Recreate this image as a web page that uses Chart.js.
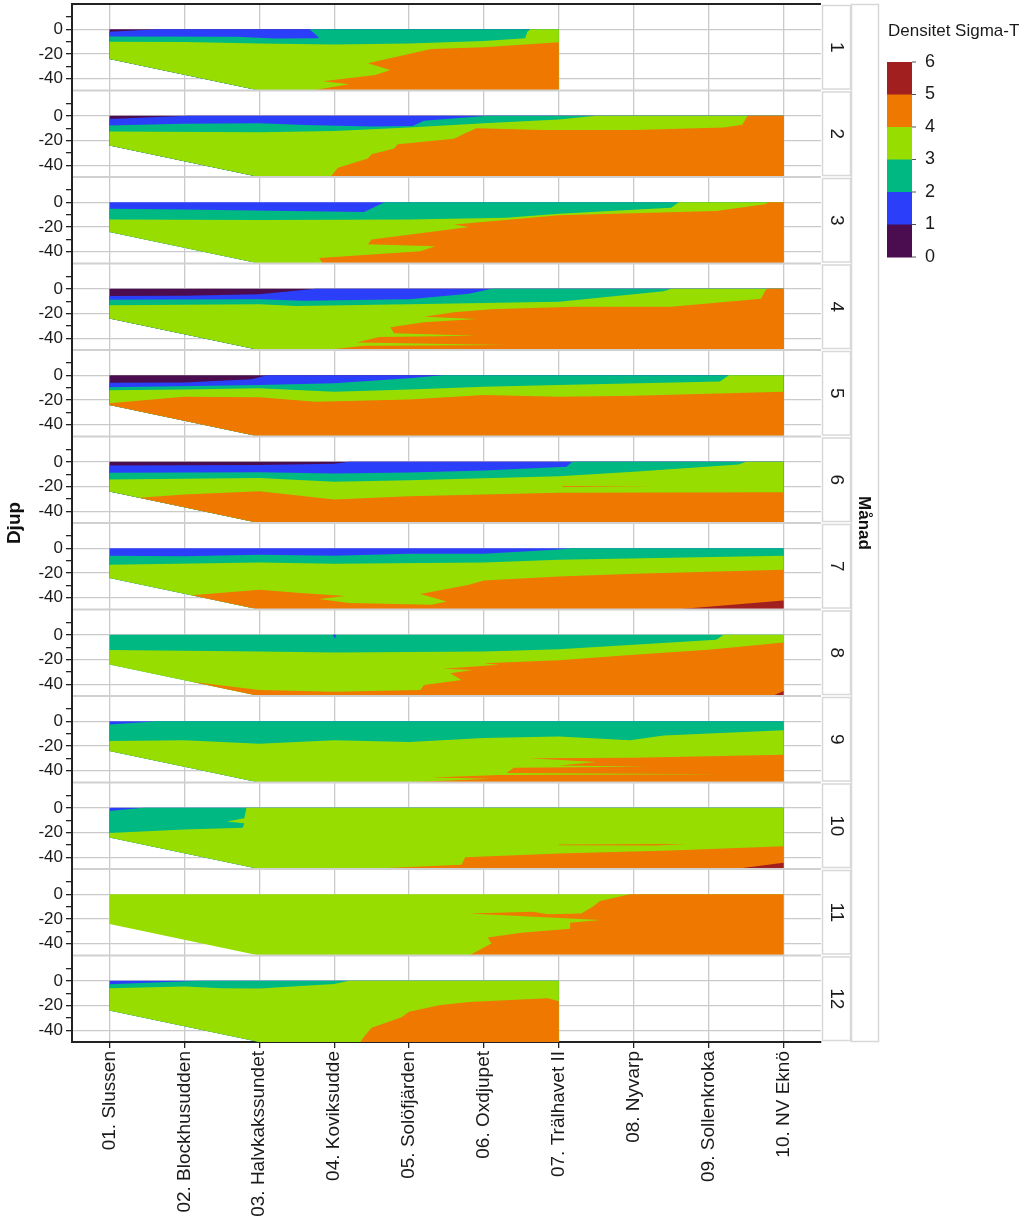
<!DOCTYPE html>
<html>
<head>
<meta charset="utf-8">
<script src="https://cdn.jsdelivr.net/npm/chart.js@4.4.1/dist/chart.umd.min.js"></script>
<style>
  html, body { margin: 0; background: #fff; }
  #wrap { width: 1024px; height: 1228px; }
</style>
</head>
<body>
<div id="wrap"><canvas id="chart" width="1024" height="1228"></canvas></div>
<script>
// stations along the x axis, months as facets
const stations = ['01. Slussen', '02. Blockhusudden', '03. Halvkakssundet', '04. Koviksudde', '05. Solöfjärden',
                  '06. Oxdjupet', '07. Trälhavet II', '08. Nyvarp', '09. Sollenkroka', '10. NV Eknö'];
const stationPos = [1, 2, 3, 4, 5, 6, 7, 8, 9, 10];
const months = ['1', '2', '3', '4', '5', '6', '7', '8', '9', '10', '11', '12'];
const depthTicks = [10, 0, -10, -20, -30, -40];
const depthLabels = [0, -20, -40];
const legendSteps = [6, 5, 4, 3, 2, 1, 0];

// sea bed (station, depth)
const seabed = [[1, -24], [3, -49.5], [10, -49.5]];

// per month: [density class, upper edge of that class (station, depth)]
// everything below an edge down to the sea bed gets that class
const m01 = [
  [0, [[1, 0], [7, 0]]],
  [1, [[1, -2], [1.65, 0], [7, 0]]],
  [2, [[1, -5.7], [2.7, -6], [3.2, -7.5], [3.8, -7.3], [3.75, -4], [3.67, 0], [7, 0]]],
  [3, [[1, -10], [2, -10.2], [3, -11.5], [4, -12.2], [5, -11.5], [6, -9.5], [6.55, -7.3], [6.58, -2], [6.62, 0], [7, 0]]],
  [4, [[3.7, -49.5], [4.2, -44.5], [3.85, -42], [4.55, -37], [4.75, -33], [4.45, -27.5], [5.1, -18.5], [5.3, -16], [6, -14.5], [7, -10.5]]]
];
const m02 = [
  [0, [[1, 0], [10, 0]]],
  [1, [[1, -2.5], [2.05, 0], [10, 0]]],
  [2, [[1, -7.8], [2, -6.5], [3, -6], [3.6, -7.5], [4.5, -8.6], [5.05, -8.3], [5.2, -4], [6.05, 0], [10, 0]]],
  [3, [[1, -12.7], [3, -13.2], [4, -12.2], [5, -9.5], [6, -6], [7, -3], [7.5, 0], [10, 0]]],
  [4, [[3.95, -49.5], [4.05, -42], [4.45, -34.5], [4.5, -31], [4.8, -26.5], [4.85, -23], [5.6, -18.5], [5.75, -14], [5.9, -10],
       [6.8, -11.4], [8, -11.5], [9.2, -9.5], [9.45, -7.3], [9.52, 0], [10, 0]]]
];
const m03 = [
  [1, [[1, 0], [10, 0]]],
  [2, [[1, -5.1], [2, -5.7], [3.4, -7], [4.4, -7.8], [4.6, -2], [4.68, 0], [10, 0]]],
  [3, [[1, -13.8], [3, -14.3], [5, -13.8], [6.3, -12.4], [7, -9.2], [8.5, -4.3], [8.6, 0], [10, 0]]],
  [4, [[3.85, -49.5], [3.8, -45], [5.15, -39.5], [5.35, -35.5], [4.45, -34], [4.5, -30], [5.8, -20], [5.6, -18], [7, -10.5],
       [9.1, -7], [9.75, -1.6], [9.8, 0], [10, 0]]]
];
const m04 = [
  [0, [[1, 0], [10, 0]]],
  [1, [[1, -5.7], [2, -5.5], [3, -4.3], [3.75, 0], [10, 0]]],
  [2, [[1, -8.9], [3, -8.4], [3.6, -9.7], [5, -8.4], [5.8, -4], [6.1, 0], [10, 0]]],
  [3, [[1, -13.2], [3, -12.4], [3.5, -13.8], [5, -12.4], [7, -10.5], [8.4, -2], [8.5, 0], [10, 0]]],
  [4, [[3.9, -49.5], [4.4, -46], [6.3, -45.5], [4.3, -43.5], [4.6, -39], [5.9, -38], [4.8, -36], [4.75, -31], [5.2, -27],
       [5.9, -24.5], [5.2, -22.5], [5.6, -19], [6.1, -16.5], [7.2, -14.5], [8.5, -14.5], [9.7, -8], [9.75, -2], [9.78, 0], [10, 0]]]
];
const m05 = [
  [0, [[1, 0], [10, 0]]],
  [1, [[1, -6], [2, -5.7], [2.9, -3.2], [3.1, 0], [10, 0]]],
  [2, [[1, -9.7], [3, -7.8], [4, -6.5], [5, -2.4], [5.45, 0], [10, 0]]],
  [3, [[1, -12], [2, -11.4], [3, -10.5], [4, -13.2], [5, -11.5], [6, -9.2], [7, -7.8], [9.15, -5], [9.27, 0], [10, 0]]],
  [4, [[1, -22.5], [2, -17.3], [3, -17.8], [3.75, -21.4], [5, -19.5], [6, -16], [7, -17.3], [8, -16.5], [10, -13.2]]]
];
const m06 = [
  [0, [[1, 0], [10, 0]]],
  [1, [[1, -3], [3, -2.5], [4, -1.6], [4.2, 0], [10, 0]]],
  [2, [[1, -8.9], [3, -8.4], [4, -9.5], [5, -8.6], [6, -7], [7.1, -4], [7.18, 0], [10, 0]]],
  [3, [[1, -14.3], [3, -13], [4, -16.2], [5, -15], [7, -11.6], [8, -8], [9.4, -2.2], [9.5, 0], [10, 0]]],
  [4, [[1.4, -29], [2, -26.5], [3, -23.8], [4, -30.5], [5, -27.8], [7, -25], [10, -24.6]]]
];
const m07 = [
  [1, [[1, 0], [10, 0]]],
  [2, [[1, -6], [2, -6.5], [3, -5.1], [4, -6], [5, -4.3], [6, -4.3], [7, -1], [7.15, 0], [10, 0]]],
  [3, [[1, -13.2], [3, -11.4], [4, -12.4], [6, -11.4], [7, -9.2], [10, -6]]],
  [4, [[2.1, -38], [3, -33.5], [3.55, -36.2], [4.15, -38.5], [3.8, -41], [4.2, -44.3], [5.3, -45.7], [5.5, -43], [5.15, -37],
       [5.8, -29.5], [6, -26], [7, -22.7], [8, -20.5], [10, -17.3]]],
  [5, [[8.55, -49.5], [10, -42.2]]]
];
const m08 = [
  [2, [[1, 0], [10, 0]]],
  [3, [[1, -12.2], [3, -13.5], [4, -14.3], [6, -13.5], [7, -11.6], [9.1, -4], [9.2, 0], [10, 0]]],
  [4, [[2.1, -38], [3, -44.6], [4, -46], [5.15, -44.6], [5.2, -40.5], [5.7, -36.5], [5.55, -31], [5.85, -28.4], [5.45, -27.5],
       [6.2, -24.3], [6, -23], [7, -20.5], [8, -16.2], [9, -12], [10, -6.2]]],
  [5, [[9.85, -49.5], [10, -45.5]]]
];
const m09 = [
  [1, [[1, 0], [10, 0]]],
  [2, [[1, -2.5], [1.5, -0.5], [1.6, 0], [10, 0]]],
  [3, [[1, -16], [2, -15.4], [3, -18.1], [4, -15.4], [5, -16.8], [6, -13.5], [7, -12.2], [7.95, -15.4], [8.4, -11.4], [10, -7.3]]],
  [4, [[4.9, -49.5], [6.1, -46.5], [5.3, -45.5], [6.2, -43.5], [9.2, -42.8], [6.3, -41.8], [6.4, -37.5], [8.2, -36.8], [7, -35.8],
       [7.5, -33], [6.6, -29.8], [8, -29.5], [10, -27]]]
];
const m10 = [
  [1, [[1, 0], [10, 0]]],
  [2, [[1, -2.5], [1.45, 0], [10, 0]]],
  [3, [[1, -20.3], [2, -17.6], [2.78, -16.2], [2.8, -12.5], [2.57, -11], [2.8, -8.5], [2.83, 0], [10, 0]]],
  [4, [[4.4, -49.5], [5.7, -46], [5.75, -40], [7, -37], [8.5, -34.5], [10, -31]]],
  [5, [[9.35, -49.5], [10, -44.5]]]
];
const m11 = [
  [3, [[1, 0], [10, 0]]],
  [4, [[5.8, -49.5], [5.95, -44.6], [6.1, -39.7], [6.05, -35], [6.5, -31], [7.15, -27.8], [7.15, -23], [7.55, -20.8], [5.8, -15.6],
       [6.65, -14], [6.85, -16.2], [7.3, -15.5], [7.45, -10], [7.55, -5.4], [7.95, 0], [10, 0]]]
];
const m12 = [
  [1, [[1, 0], [7, 0]]],
  [2, [[1, -2.7], [1.5, -1.5], [2.2, 0], [7, 0]]],
  [3, [[1, -6], [2, -4.5], [2.5, -6], [3, -6.2], [4, -2.5], [4.2, 0], [7, 0]]],
  [4, [[4.35, -49.5], [4.4, -45], [4.5, -38], [4.9, -29.5], [5, -25], [5.4, -19.8], [5.8, -17.2], [6.85, -14], [7, -16.5]]]
];
const monthLayers = [m01, m02, m03, m04, m05, m06, m07, m08, m09, m10, m11, m12];

// small closed patches: [month, class, outline]
const patches = [
  ['6', 4, [[7.05, -19.6], [8.3, -19.9], [7.05, -20.4]]],
  ['8', 1, [[3.98, 0], [4.03, 0], [4.01, -3]]],
  ['10', 4, [[7, -29.6], [8.7, -29.3], [8.3, -30.4], [7, -30.3]]]
];

const palette = ['#4b0d4f', '#2b3ffb', '#00b982', '#97de00', '#ee7800', '#a21f1f'];
const family = '"Liberation Sans", Arial, sans-serif';
const font = (size, bold) => (bold ? 'bold ' : '') + size + 'px ' + family;

let seq = 0;
function area(points, monthIdx, cls) {
  seq++;
  return {
    data: points.map(([x, y]) => ({ x, y })),
    yAxisID: 'y' + monthIdx,
    fill: 'shape',
    backgroundColor: palette[cls],
    borderWidth: 0,
    pointRadius: 0,
    pointHoverRadius: 0,
    tension: 0,
    order: -seq
  };
}

const datasets = [];
const floor = seabed[seabed.length - 1][1];
monthLayers.forEach((layers, i) => {
  layers.forEach(([cls, edge]) => {
    const first = edge[0], last = edge[edge.length - 1];
    const back = seabed.filter(p => p[0] >= first[0] && p[0] < last[0]).reverse();
    datasets.push(area([...edge, [last[0], floor], ...back], i, cls));
  });
});
patches.forEach(([m, cls, poly]) => datasets.push(area(poly, months.indexOf(m), cls)));

const scales = {
  x: {
    type: 'linear',
    min: 0.5,
    max: 10.5,
    afterBuildTicks: s => { s.ticks = stationPos.map(v => ({ value: v })); },
    afterFit: s => { s.height = 186; s.paddingLeft = 0; s.paddingRight = 0; },
    ticks: {
      callback: v => stations[v - 1],
      minRotation: 90,
      maxRotation: 90,
      autoSkip: false,
      padding: 3,
      color: '#1a1a1a',
      font: { family: family, size: 19 }
    },
    grid: { color: '#cacaca', lineWidth: 1.3, tickColor: '#222', tickLength: 6 },
    border: { color: '#222', width: 2 }
  }
};
months.forEach((m, i) => {
  scales['y' + i] = {
    type: 'linear',
    position: 'left',
    stack: 'panels',
    stackWeight: 1,
    weight: months.length - i,
    min: -49.5,
    max: 20.5,
    afterBuildTicks: s => { s.ticks = depthTicks.map(v => ({ value: v })); },
    afterFit: s => { s.width = 72; s.paddingTop = 0; s.paddingBottom = 0; },
    ticks: {
      callback: v => depthLabels.includes(v) ? String(v) : '',
      autoSkip: false,
      padding: 3,
      color: '#1a1a1a',
      font: { family: family, size: 17 }
    },
    grid: {
      color: c => depthLabels.includes(c.tick && c.tick.value) ? '#cacaca' : 'rgba(0,0,0,0)',
      lineWidth: 1.3,
      tickColor: '#222',
      tickLength: 6
    },
    border: { color: '#222', width: 2 }
  };
});

const frame = {
  id: 'frame',
  afterDraw(chart) {
    const { ctx, chartArea: a } = chart;
    ctx.save();

    months.forEach((m, i) => {
      const s = chart.scales['y' + i];
      if (i > 0) {
        ctx.strokeStyle = '#d0d0d0';
        ctx.lineWidth = 2;
        ctx.beginPath();
        ctx.moveTo(a.left + 1, s.top);
        ctx.lineTo(a.right, s.top);
        ctx.stroke();
      }
      // facet strip
      ctx.strokeStyle = '#d8d8d8';
      ctx.lineWidth = 1.5;
      ctx.strokeRect(a.right + 1.5, s.top + 1.5, 28, s.bottom - s.top - 3);
      ctx.save();
      ctx.translate(a.right + 15.5, (s.top + s.bottom) / 2);
      ctx.rotate(Math.PI / 2);
      ctx.fillStyle = '#1a1a1a';
      ctx.font = font(19);
      ctx.textAlign = 'center';
      ctx.textBaseline = 'middle';
      ctx.fillText(m, 0, 0);
      ctx.restore();
    });

    // outer strip for the facet variable
    ctx.strokeStyle = '#d8d8d8';
    ctx.lineWidth = 1.5;
    ctx.strokeRect(a.right + 30.5, a.top + 0.5, 27, a.bottom - a.top - 1);
    ctx.save();
    ctx.translate(a.right + 43, (a.top + a.bottom) / 2);
    ctx.rotate(Math.PI / 2);
    ctx.fillStyle = '#111';
    ctx.font = font(17, true);
    ctx.textAlign = 'center';
    ctx.textBaseline = 'middle';
    ctx.fillText('Månad', 0, 0);
    ctx.restore();

    // top frame line
    ctx.strokeStyle = '#222';
    ctx.lineWidth = 2;
    ctx.beginPath();
    ctx.moveTo(a.left, a.top);
    ctx.lineTo(a.right, a.top);
    ctx.stroke();

    // y title
    ctx.save();
    ctx.translate(15, (a.top + a.bottom) / 2);
    ctx.rotate(-Math.PI / 2);
    ctx.fillStyle = '#111';
    ctx.font = font(19, true);
    ctx.textAlign = 'center';
    ctx.textBaseline = 'middle';
    ctx.fillText('Djup', 0, 0);
    ctx.restore();

    // colour bar legend
    const lx = 887, ly = 62, bw = 25, bh = 32.5;
    ctx.fillStyle = '#1a1a1a';
    ctx.font = font(17);
    ctx.textAlign = 'left';
    ctx.textBaseline = 'alphabetic';
    ctx.fillText('Densitet Sigma-T', 888, 36);
    legendSteps.slice(0, -1).forEach((v, j) => {
      ctx.fillStyle = palette[v - 1];
      ctx.fillRect(lx, ly + j * bh, bw, bh + 0.5);
    });
    ctx.font = font(18);
    ctx.textBaseline = 'middle';
    legendSteps.forEach((v, j) => {
      const y = ly + j * bh;
      ctx.strokeStyle = '#555';
      ctx.lineWidth = 1;
      ctx.beginPath();
      ctx.moveTo(lx + bw, y);
      ctx.lineTo(lx + bw + 4, y);
      ctx.stroke();
      ctx.fillStyle = '#1a1a1a';
      ctx.fillText(String(v), 925, y);
    });
    ctx.restore();
  }
};

new Chart(document.getElementById('chart'), {
  type: 'line',
  data: { datasets: datasets },
  options: {
    responsive: false,
    animation: false,
    events: [],
    layout: { padding: { top: 4, right: 203, bottom: 0, left: 0 } },
    plugins: { legend: { display: false }, tooltip: { enabled: false } },
    scales: scales
  },
  plugins: [frame]
});
</script>
</body>
</html>
